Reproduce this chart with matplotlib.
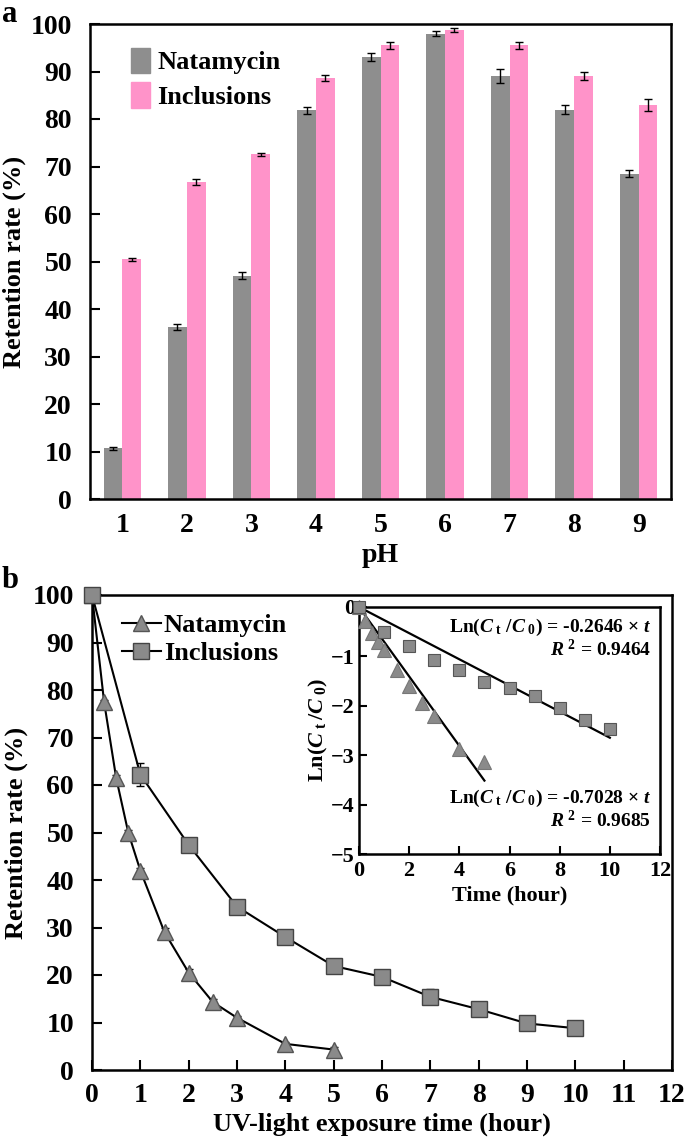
import numpy as np
import matplotlib.pyplot as plt
from matplotlib.patches import Patch
from matplotlib.lines import Line2D

plt.rcParams['font.family'] = ['Liberation Serif', 'DejaVu Serif']
plt.rcParams['font.weight'] = 'bold'
plt.rcParams['axes.labelweight'] = 'bold'
plt.rcParams['mathtext.fontset'] = 'custom'
plt.rcParams['mathtext.rm'] = 'Liberation Serif:bold'
plt.rcParams['mathtext.it'] = 'Liberation Serif:italic:bold'
plt.rcParams['mathtext.bf'] = 'Liberation Serif:bold'

# panel a: retention vs pH
ph = [1, 2, 3, 4, 5, 6, 7, 8, 9]
nata_ph = [10.7, 36.2, 47.0, 81.8, 93.0, 98.0, 89.0, 82.0, 68.5]
nata_ph_err = [0.3, 0.7, 0.7, 0.7, 0.8, 0.5, 1.5, 1.0, 0.7]
incl_ph = [50.5, 66.8, 72.6, 88.7, 95.5, 98.7, 95.5, 89.0, 83.0]
incl_ph_err = [0.3, 0.6, 0.3, 0.6, 0.7, 0.4, 0.7, 0.8, 1.3]

# panel b: retention vs UV time
t_nata = [0, 0.25, 0.5, 0.75, 1, 1.5, 2, 2.5, 3, 4, 5]
nata_uv = [100, 77.5, 61.5, 50.0, 42.0, 29.0, 20.5, 14.3, 11.0, 5.5, 4.3]
nata_uv_err = [0, 0.5, 0.6, 0.5, 0.5, 0.8, 0.7, 0.6, 0.4, 0.4, 0.5]
t_incl = [0, 1, 2, 3, 4, 5, 6, 7, 8, 9, 10]
incl_uv = [100, 62.2, 47.4, 34.4, 28.0, 21.9, 19.6, 15.4, 12.8, 9.8, 8.8]
incl_uv_err = [0, 2.5, 0.6, 0.5, 0.5, 0.5, 0.5, 1.6, 0.4, 0.4, 0.4]

# inset: ln(Ct/C0)
ln_nata = [0, -0.28, -0.52, -0.70, -0.88, -1.27, -1.60, -1.94, -2.21, -2.88, -3.13]
ln_incl = [0, -0.50, -0.78, -1.07, -1.27, -1.51, -1.63, -1.81, -2.05, -2.29, -2.47]
k_incl, r2_incl = -0.2646, 0.9464
k_nata, r2_nata = -0.7028, 0.9685

W, H = 685, 1142
fig = plt.figure(figsize=(W / 100, H / 100), dpi=100)

def box(l, t, r, b):
    return [l / W, 1 - b / H, (r - l) / W, (b - t) / H]

gray = '#8e8e8e'
pink = '#ff93c9'
mgray = '#8a8a8a'
fs = 20   # tick labels
lfs = 19  # axis labels

# ---- panel a
ax = fig.add_axes(box(90, 24, 671, 499))
x = np.array(ph)
w = 0.29
ax.bar(x - w / 2, nata_ph, w, color=gray, yerr=nata_ph_err,
       error_kw=dict(ecolor='black', capsize=3, elinewidth=1, capthick=1))
ax.bar(x + w / 2, incl_ph, w, color=pink, yerr=incl_ph_err,
       error_kw=dict(ecolor='black', capsize=3, elinewidth=1, capthick=1))
ax.set_xlim(0.5, 9.5)
ax.set_ylim(0, 100)
ax.set_xticks(ph)
ax.set_yticks(range(0, 101, 10))
ax.tick_params(axis='x', length=0, pad=10, labelsize=fs)
ax.tick_params(axis='y', direction='in', length=7, width=1.5, pad=13, labelsize=fs)
ax.set_xlabel('pH', fontsize=lfs + 1, labelpad=4)
ax.set_ylabel('Retention rate (%)', fontsize=lfs, labelpad=3)
for s in ax.spines.values():
    s.set_linewidth(1.8)
ax.legend(handles=[Patch(color=gray, label='Natamycin'), Patch(color=pink, label='Inclusions')],
          loc='upper left', bbox_to_anchor=(0.03, 1.0), frameon=False, fontsize=lfs,
          handlelength=0.7, handleheight=1.1, handletextpad=0.3, labelspacing=0.3)
fig.text(2 / W, 1 - 15 / H, 'a', fontsize=22, fontweight='bold', va='center')

# ---- panel b
bx = fig.add_axes(box(92, 595, 672, 1070))
bx.errorbar(t_nata, nata_uv, yerr=nata_uv_err, color='black', lw=1.5, marker='^',
            ms=12, mfc=mgray, mec='#555555', mew=1, capsize=3, elinewidth=1,
            clip_on=False, zorder=3)
bx.errorbar(t_incl, incl_uv, yerr=incl_uv_err, color='black', lw=1.5, marker='s',
            ms=11, mfc=mgray, mec='#444444', mew=1, capsize=3, elinewidth=1,
            clip_on=False, zorder=3)
bx.set_xlim(0, 12)
bx.set_ylim(0, 100)
bx.set_xticks(range(0, 13))
bx.set_yticks(range(0, 101, 10))
bx.tick_params(direction='in', length=7, width=1.5, labelsize=fs)
bx.tick_params(axis='y', pad=13)
bx.tick_params(axis='x', pad=9)
bx.set_xlabel('UV-light exposure time (hour)', fontsize=lfs, labelpad=4)
bx.set_ylabel('Retention rate (%)', fontsize=lfs, labelpad=3)
for s in bx.spines.values():
    s.set_linewidth(1.8)
hl = [Line2D([], [], color='black', lw=1.5, marker='^', ms=12, mfc=mgray, mec='#555555', label='Natamycin'),
      Line2D([], [], color='black', lw=1.5, marker='s', ms=11, mfc=mgray, mec='#444444', label='Inclusions')]
bx.legend(handles=hl, loc='upper left', bbox_to_anchor=(0.01, 1.01), frameon=False,
          fontsize=lfs, handlelength=1.5, handletextpad=0.1, labelspacing=0.15)
fig.text(2 / W, 1 - 580 / H, 'b', fontsize=22, fontweight='bold', va='center')

# ---- inset
ix = fig.add_axes(box(359, 607, 660, 854))
ix.plot(t_nata, ln_nata, ls='none', marker='^', ms=10, mfc=mgray, mec='#777777', mew=0.8,
        clip_on=False, zorder=3)
ix.plot(t_incl, ln_incl, ls='none', marker='s', ms=9, mfc=mgray, mec='#555555', mew=0.8,
        clip_on=False, zorder=3)
ix.plot([0, 10], [0, k_incl * 10], color='black', lw=1.6)
ix.plot([0, 5], [0, k_nata * 5], color='black', lw=1.6)
ix.set_xlim(0, 12)
ix.set_ylim(-5, 0)
ix.set_xticks(range(0, 13, 2))
ix.set_yticks(range(-5, 1))
ix.tick_params(direction='in', length=6, width=1.5, labelsize=16)
ix.tick_params(axis='y', pad=3)
ix.tick_params(axis='x', pad=5)
ix.set_xlabel('Time (hour)', fontsize=16, labelpad=3)
ix.set_ylabel(r'Ln($C_{\rm\ t}\,/C_{\rm\ 0}$)', fontsize=16, labelpad=1)
for s in ix.spines.values():
    s.set_linewidth(1.8)
eq = r'Ln($C_{\rm\ t}\ /C_{\rm\ 0}$) = %.4f $\times$ $t$'
ix.text(11.65, -0.42, eq % k_incl, ha='right', va='center', fontsize=14)
ix.text(11.65, -0.86, r'$R^{\ 2}$ = %.4f' % r2_incl, ha='right', va='center', fontsize=14)
ix.text(11.65, -3.88, eq % k_nata, ha='right', va='center', fontsize=14)
ix.text(11.65, -4.32, r'$R^{\ 2}$ = %.4f' % r2_nata, ha='right', va='center', fontsize=14)

fig.savefig('out.png', dpi=100)
